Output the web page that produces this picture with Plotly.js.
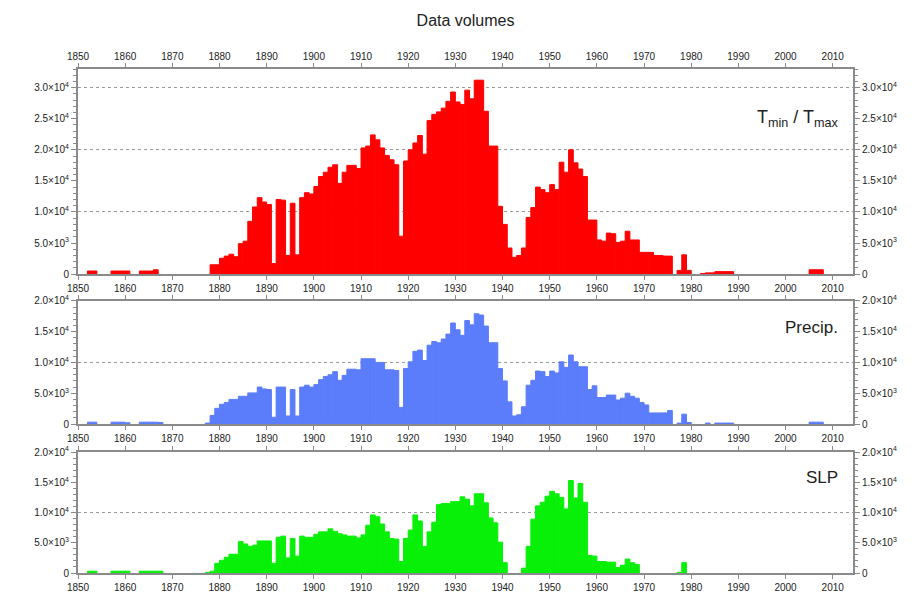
<!DOCTYPE html>
<html>
<head>
<meta charset="utf-8">
<script src="https://cdn.plot.ly/plotly-3.0.1.min.js"></script>
<style>html,body{margin:0;padding:0;background:#fff;}#chart{width:921px;height:595px;}</style>
</head>
<body>
<div id="chart"></div>
<script>
// ---- data ----
const years = [
1850,1851,1852,1853,1854,1855,1856,1857,1858,1859,
1860,1861,1862,1863,1864,1865,1866,1867,1868,1869,
1870,1871,1872,1873,1874,1875,1876,1877,1878,1879,
1880,1881,1882,1883,1884,1885,1886,1887,1888,1889,
1890,1891,1892,1893,1894,1895,1896,1897,1898,1899,
1900,1901,1902,1903,1904,1905,1906,1907,1908,1909,
1910,1911,1912,1913,1914,1915,1916,1917,1918,1919,
1920,1921,1922,1923,1924,1925,1926,1927,1928,1929,
1930,1931,1932,1933,1934,1935,1936,1937,1938,1939,
1940,1941,1942,1943,1944,1945,1946,1947,1948,1949,
1950,1951,1952,1953,1954,1955,1956,1957,1958,1959,
1960,1961,1962,1963,1964,1965,1966,1967,1968,1969,
1970,1971,1972,1973,1974,1975,1976,1977,1978,1979,
1980,1981,1982,1983,1984,1985,1986,1987,1988,1989,
1990,1991,1992,1993,1994,1995,1996,1997,1998,1999,
2000,2001,2002,2003,2004,2005,2006,2007,2008,2009];

const tminTmax = [
0,0,500,500,0,0,0,500,500,500,
500,0,0,500,500,500,700,0,0,0,
0,0,0,0,0,0,0,0,1500,1500,
2550,2900,3200,2800,4900,5300,8500,10800,12300,11600,
11200,1700,12000,11900,3000,11400,3100,12300,13100,12900,
14100,15700,16400,17200,17600,14600,16400,17500,17500,17000,
20300,20600,22400,21600,20300,19100,18400,17600,6100,18200,
20000,21100,22300,19300,24700,25700,26100,26700,27800,29300,
27700,27300,29600,28200,31200,31200,26200,20600,20600,10900,
8000,4200,2700,3000,4200,9100,10700,14000,13600,13100,
14400,13600,18000,16400,20000,17900,16900,15700,8700,8700,
5500,5300,6600,6500,5100,5300,6900,5500,5500,3500,
3500,3500,3000,3000,2900,2900,0,600,3100,600,
0,0,100,200,200,400,400,400,400,0,
0,0,0,0,0,0,0,0,0,0,
0,0,0,0,0,700,700,700,0,0];

const precip = [
0,0,300,300,0,0,0,300,300,300,
200,0,0,300,300,300,300,250,0,0,
0,0,0,0,0,0,0,150,1400,2550,
3200,3500,4000,4000,4500,4500,5050,5050,6000,5700,
5600,1100,6000,6000,1300,5600,1300,6000,6300,6000,
6400,7200,7700,8000,8500,7100,7900,8900,8900,8800,
10600,10600,10600,10000,10000,8800,8800,8700,2700,9000,
10100,11800,12000,10300,12800,13400,13200,13800,14600,16400,
15300,14400,16800,16100,17900,17700,15900,13200,13200,9000,
7000,3600,1300,1500,2800,6300,7100,8600,8500,7700,
8600,8300,10100,9200,11200,10100,9300,9300,5600,6200,
4300,4300,4700,4700,3900,4200,5000,4500,4200,3500,
3100,1800,1800,1800,1800,2200,0,150,1600,250,
0,0,0,150,0,150,150,150,150,0,
0,0,0,0,0,0,0,0,0,0,
0,0,0,0,0,300,300,300,0,0];

const slp = [
0,0,300,300,0,0,0,300,300,300,
300,0,0,300,300,300,300,300,0,0,
0,0,0,0,0,0,0,100,300,1600,
2100,2600,3100,3100,5200,4800,4400,4600,5300,5300,
5300,1600,5900,6100,2500,5700,2800,6100,5900,5900,
6400,6800,6800,7300,6900,6500,6300,6100,6100,5800,
6300,7900,9600,9300,8100,6800,5700,5600,1900,5700,
7100,9600,8600,4400,6800,8400,11300,11500,11500,11800,
11800,12600,12200,11100,13100,13100,11600,9100,8300,5100,
1700,0,0,0,800,4400,8900,11100,11700,12700,
13500,13100,12500,10600,15300,12400,14800,11700,2900,2800,
1900,1900,1800,1800,900,1300,2300,1700,1400,0,
0,0,0,0,0,0,0,100,1700,0,
0,0,0,0,0,0,0,0,0,0,
0,0,0,0,0,0,0,0,0,0,
0,0,0,0,0,0,0,0,0,0];

const yearTicks = [1850,1860,1870,1880,1890,1900,1910,1920,1930,1940,1950,1960,1970,1980,1990,2000,2010];
const yTickVals1 = [0,5000,10000,15000,20000,25000,30000];
const yTickText1 = ['0','5.0×10<sup>3</sup>','1.0×10<sup>4</sup>','1.5×10<sup>4</sup>','2.0×10<sup>4</sup>','2.5×10<sup>4</sup>','3.0×10<sup>4</sup>'];
const yTickVals23 = [0,5000,10000,15000,20000];
const yTickText23 = ['0','5.0×10<sup>3</sup>','1.0×10<sup>4</sup>','1.5×10<sup>4</sup>','2.0×10<sup>4</sup>'];
const panelLabels = ['T<sub>min</sub> / T<sub>max</sub>','Precip.','SLP'];

// ---- styling ----
const AX = '#8a8a8a';
const tickFont = {family:'Liberation Sans Narrow, Arial Narrow, Liberation Sans, Arial, sans-serif', size:10, color:'#222'};
const XR = [1850, 2014.3];

function xAxis(anchor, extra) {
  return Object.assign({
    anchor: anchor, domain:[0,1], range: XR, tickvals: yearTicks, ticks:'outside', ticklen:4,
    tickcolor: AX, tickwidth:1, showline:true, linecolor:AX, linewidth:2, mirror:'ticks',
    showgrid:false, zeroline:false, tickfont: tickFont, fixedrange:true
  }, extra || {});
}
function yAxis(anchor, domain, range, vals, text, extra) {
  return Object.assign({
    anchor: anchor, domain: domain, range: range, tickvals: vals, ticktext: text,
    ticks:'outside', ticklen:5, tickcolor:AX, tickwidth:1,
    minor:{dtick:1000, tick0:0, ticks:'outside', ticklen:3, tickcolor:AX, showgrid:false},
    showline:true, linecolor:AX, linewidth:2, showgrid:false, zeroline:false, tickfont: tickFont, fixedrange:true
  }, extra || {});
}
function gridAxis(over, range) {
  return {overlaying: over, range: range, dtick:10000, tick0:0, showgrid:true, gridcolor:'#9a9a9a',
    griddash:'dot', gridwidth:1, showticklabels:false, ticks:'', showline:false, zeroline:false, fixedrange:true};
}

const D1 = [0.593, 1], D2 = [0.2956, 0.540], D3 = [0, 0.240];
const R1 = [0, 33000], R23 = [0, 20000];

function bars(vals, color, xa, ya) {
  // years with no data are left undrawn (null), so no stroke appears on the baseline
  return {type:'bar', x: years, y: vals.map(v => v === 0 ? null : v), width:1, offset:0, xaxis: xa, yaxis: ya,
    marker:{color: color, line:{width:1, color: color}}, showlegend:false, hoverinfo:'x+y'};
}
function empty(xa, ya) {
  return {type:'scatter', x:[], y:[], xaxis:xa, yaxis:ya, showlegend:false, hoverinfo:'skip'};
}

const data = [
  bars(tminTmax, '#ff0000', 'x3', 'y3'),
  bars(precip, '#5b7dfb', 'x2', 'y2'),
  bars(slp, '#08f008', 'x', 'y'),
  empty('x3','y6'), empty('x2','y5'), empty('x','y4'),
  empty('x3','y9'), empty('x2','y8'), empty('x','y7'),
  empty('x4','y3')
];

const layout = {
  width:921, height:595,
  margin:{l:78, r:68, t:69, b:22, pad:0},
  paper_bgcolor:'#fff', plot_bgcolor:'#fff',
  bargap:0,
  title:{text:'Data volumes', x:0.5, xref:'paper', y:0.965, yref:'container', yanchor:'middle',
    font:{family:'Liberation Sans Narrow, Arial Narrow, Liberation Sans, Arial, sans-serif', size:16, color:'#222'}},
  xaxis: xAxis('y'),
  xaxis2: xAxis('y2'),
  xaxis3: xAxis('y3'),
  xaxis4: xAxis('y3', {overlaying:'x3', side:'top', mirror:false, showline:false}),
  yaxis: yAxis('x', D3, R23, yTickVals23, yTickText23),
  yaxis2: yAxis('x2', D2, R23, yTickVals23, yTickText23),
  yaxis3: yAxis('x3', D1, R1, yTickVals1, yTickText1),
  yaxis4: yAxis('x', D3, R23, yTickVals23, yTickText23, {overlaying:'y', side:'right'}),
  yaxis5: yAxis('x2', D2, R23, yTickVals23, yTickText23, {overlaying:'y2', side:'right'}),
  yaxis6: yAxis('x3', D1, R1, yTickVals1, yTickText1, {overlaying:'y3', side:'right'}),
  yaxis7: gridAxis('y', R23),
  yaxis8: gridAxis('y2', R23),
  yaxis9: gridAxis('y3', R1),
  annotations: [
    {text: panelLabels[0], xref:'paper', yref:'y3 domain', x:0.983, y:0.76, xanchor:'right', yanchor:'middle',
     showarrow:false, font:{family:'Liberation Sans, Arial, sans-serif', size:18, color:'#222'}},
    {text: panelLabels[1], xref:'paper', yref:'y2 domain', x:0.983, y:0.78, xanchor:'right', yanchor:'middle',
     showarrow:false, font:{family:'Liberation Sans, Arial, sans-serif', size:17, color:'#222'}},
    {text: panelLabels[2], xref:'paper', yref:'y domain', x:0.983, y:0.79, xanchor:'right', yanchor:'middle',
     showarrow:false, font:{family:'Liberation Sans, Arial, sans-serif', size:17, color:'#222'}}
  ]
};

Plotly.newPlot('chart', data, layout, {displayModeBar:false, staticPlot:true});
</script>
</body>
</html>
